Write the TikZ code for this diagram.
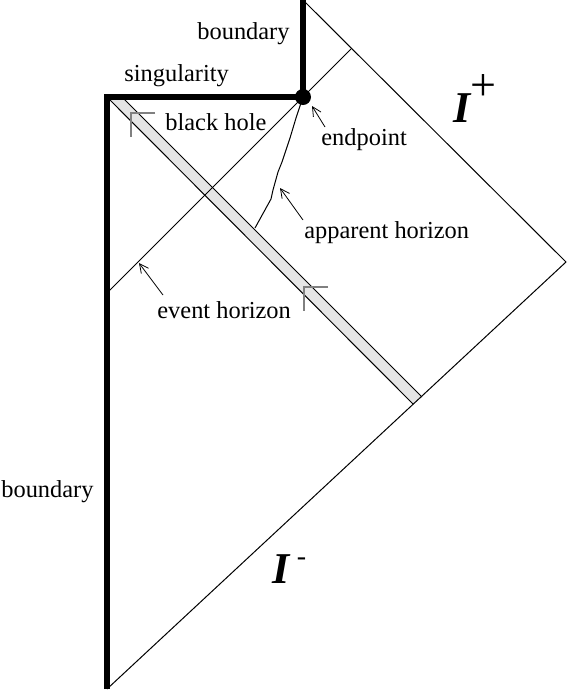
\documentclass[tikz,border=0pt]{standalone}
\usepackage{fontspec}
\setmainfont{Liberation Serif}
\usetikzlibrary{arrows.meta}
\tikzset{
  tag/.style={inner sep=0pt, anchor=base west, font=\fontsize{12.2}{14}\selectfont},
  scri/.style={inner sep=0pt, anchor=base west, font=\fontsize{22}{24}\selectfont\bfseries\itshape},
  wall/.style={line width=2.6pt},
  ray/.style={line width=0.5pt},
  pointer/.style={line width=0.4pt, -{Straight Barb[length=4.5pt,width=4.5pt]}},
  tick/.style={gray, line width=0.6pt}
}
\begin{document}
\begin{tikzpicture}[x=0.5pt,y=-0.5pt]
  \useasboundingbox (0,0) rectangle (569,692);
  \coordinate (top) at (303,0);
  \coordinate (right) at (566,262);
  \coordinate (bottom) at (107,689);
  \coordinate (corner) at (107,97);
  \coordinate (end) at (303,97);
  \coordinate (ehin) at (107,293);
  \coordinate (ehout) at (351,49);
  % infalling shell
  \fill[gray!20] (corner) -- (122,97) -- (422,397) -- (413,404) -- cycle;
  \draw[ray] (122,97) -- (422,397);
  \draw[ray] (corner) -- (413,404);
  % null edges and horizons
  \draw[ray] (top) -- (right) -- (bottom);
  \draw[ray] (ehin) -- (ehout);
  \draw[ray] (end) -- (296,118) -- (290,138) -- (282,162) -- (278,172)
    -- (273,190) -- (271,199) -- (255,228);
  % boundary and singularity
  \draw[wall] (bottom) -- (corner) -- (end) -- (top);
  \fill (end) circle[radius=4pt];
  \draw[tick] (155,113) -- (131,113) -- (131,137);
  \draw[tick] (328,287) -- (304,287) -- (304,311);

  \node[tag] (bdtop) at (197,39) {boundary};
  \node[tag] (sing) at (124,81) {singularity};
  \node[tag] (bh) at (165,130) {black hole};
  \node[tag] (eptext) at (321,145) {endpoint};
  \node[tag] (ahtext) at (304,238) {apparent horizon};
  \node[tag] (ehtext) at (157,318) {event horizon};
  \node[tag] (bdleft) at (1,497) {boundary};
  \node[scri] (scriplus) at (453,122)
    {I\raisebox{11pt}{\fontsize{23}{23}\selectfont\mdseries\upshape +}};
  \node[scri] (scriminus) at (272,583)
    {I\,\raisebox{9pt}{\fontsize{14}{14}\selectfont\mdseries -}};

  \coordinate (eptail) at (325,127);
  \coordinate (eptip) at (312,106);
  \coordinate (ahtail) at (303,220);
  \coordinate (ahtip) at (280,188);
  \coordinate (ehtail) at (163,295);
  \coordinate (ehtip) at (139,263);
  \draw[pointer] (eptail) -- (eptip);
  \draw[pointer] (ahtail) -- (ahtip);
  \draw[pointer] (ehtail) -- (ehtip);
\end{tikzpicture}
\end{document}
